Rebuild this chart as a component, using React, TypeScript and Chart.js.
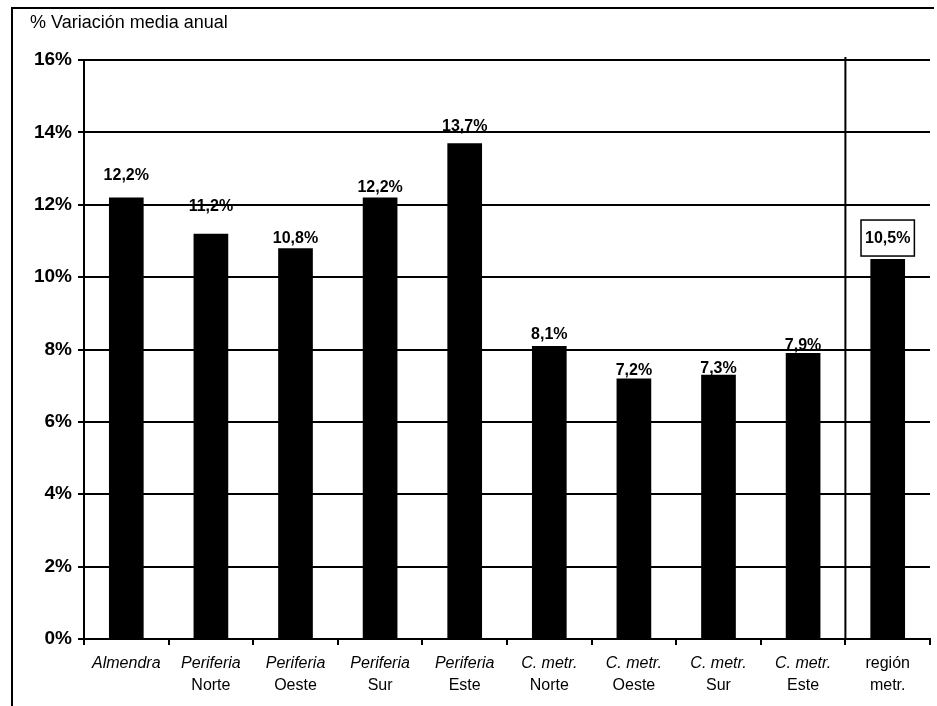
import React, { useEffect, useRef } from "react";
import { Chart, registerables } from "chart.js";

Chart.register(...registerables);

// ---- data ----
const titleText = "% Variación media anual";
const labelLine1 = ["Almendra", "Periferia", "Periferia", "Periferia", "Periferia", "C. metr.", "C. metr.", "C. metr.", "C. metr.", "región"];
const labelLine2 = ["", "Norte", "Oeste", "Sur", "Este", "Norte", "Oeste", "Sur", "Este", "metr."];
const categories = labelLine1.map((l, i) => (labelLine2[i] ? l + " " + labelLine2[i] : l));
const values = [12.2, 11.2, 10.8, 12.2, 13.7, 8.1, 7.2, 7.3, 7.9, 10.5];
const valueLabels = ["12,2%", "11,2%", "10,8%", "12,2%", "13,7%", "8,1%", "7,2%", "7,3%", "7,9%", "10,5%"];
const yTickValues = [0, 2, 4, 6, 8, 10, 12, 14, 16];

// ---- style ----
const FONT = "'Liberation Sans', Arial, sans-serif";
const line1Italic = [true, true, true, true, true, true, true, true, true, false];
const labelGaps = [18, 23, 5, 6, 12, 7, 3, 2, 3, 3];
const boxedIndex = 9;
const separatorAfter = 8;

const overlayPlugin = {
  id: "overlay",
  afterDraw(chart: any) {
    const ctx = chart.ctx;
    const area = chart.chartArea;
    const xs = chart.scales.x;
    ctx.save();
    // outer frame (left + top)
    ctx.strokeStyle = "#000";
    ctx.lineWidth = 2;
    ctx.beginPath();
    ctx.moveTo(12, 706);
    ctx.lineTo(12, 8);
    ctx.lineTo(934, 8);
    ctx.stroke();

    // title
    ctx.fillStyle = "#000";
    ctx.font = `18px ${FONT}`;
    ctx.textAlign = "left";
    ctx.textBaseline = "middle";
    ctx.fillText(titleText, 30, 23);

    // separator
    const sx = (xs.getPixelForValue(separatorAfter) + xs.getPixelForValue(separatorAfter + 1)) / 2;
    ctx.lineWidth = 2;
    ctx.beginPath();
    ctx.moveTo(sx, area.top - 3);
    ctx.lineTo(sx, area.bottom);
    ctx.stroke();

    // value labels
    const meta = chart.getDatasetMeta(0);
    ctx.font = `bold 16px ${FONT}`;
    ctx.textAlign = "center";
    ctx.textBaseline = "alphabetic";
    meta.data.forEach((bar: any, i: number) => {
      const txt = valueLabels[i];
      if (i === boxedIndex) {
        const w = ctx.measureText(txt).width;
        const boxBottom = bar.y - labelGaps[i];
        const boxH = 36;
        ctx.lineWidth = 1.5;
        ctx.strokeRect(bar.x - w / 2 - 4, boxBottom - boxH, w + 8, boxH);
        ctx.textBaseline = "middle";
        ctx.fillText(txt, bar.x, boxBottom - boxH / 2 + 1);
        ctx.textBaseline = "alphabetic";
      } else {
        ctx.fillText(txt, bar.x, bar.y - labelGaps[i]);
      }
    });

    // x labels
    ctx.textBaseline = "middle";
    labelLine1.forEach((l, i) => {
      const x = xs.getPixelForValue(i);
      ctx.font = `${line1Italic[i] ? "italic " : ""}16px ${FONT}`;
      ctx.fillText(l, x, area.bottom + 25);
      if (labelLine2[i]) {
        ctx.font = `16px ${FONT}`;
        ctx.fillText(labelLine2[i], x, area.bottom + 47);
      }
    });
    ctx.restore();
  },
};

export default function App() {
  const ref = useRef<HTMLCanvasElement>(null);
  useEffect(() => {
    if (!ref.current) return;
    const chart = new Chart(ref.current, {
      type: "bar",
      data: {
        labels: categories,
        datasets: [
          {
            data: values,
            backgroundColor: "#000",
            borderWidth: 0,
            barPercentage: 0.41,
            categoryPercentage: 1,
          },
        ],
      },
      options: {
        responsive: false,
        animation: false,
        layout: { padding: { top: 60, right: 7, left: 0, bottom: 0 } },
        plugins: { legend: { display: false }, tooltip: { enabled: false }, title: { display: false } },
        scales: {
          x: {
            offset: true,
            grid: { drawOnChartArea: false, drawTicks: true, tickLength: 6, color: "#000", lineWidth: 2, offset: true },
            border: { display: true, color: "#000", width: 2 },
            ticks: { display: false },
            afterFit: (s: any) => {
              s.height = 67;
            },
          },
          y: {
            min: 0,
            max: 16,
            afterBuildTicks: (s: any) => {
              s.ticks = yTickValues.map((v) => ({ value: v }));
            },
            grid: { color: "#000", lineWidth: 2, tickLength: 6, drawTicks: true },
            border: { display: true, color: "#000", width: 2 },
            ticks: {
              color: "#000",
              padding: 6,
              font: { family: FONT, size: 19, weight: "bold" },
              callback: (v: any) => v + "%",
            },
            afterFit: (s: any) => {
              s.width = 84;
            },
          },
        },
      },
      plugins: [overlayPlugin],
    } as any);
    return () => chart.destroy();
  }, []);
  return (
    <div style={{ position: "absolute", left: 0, top: 0, width: 937, height: 706, background: "#fff" }}>
      <canvas ref={ref} width={937} height={706} style={{ display: "block" }} />
    </div>
  );
}
